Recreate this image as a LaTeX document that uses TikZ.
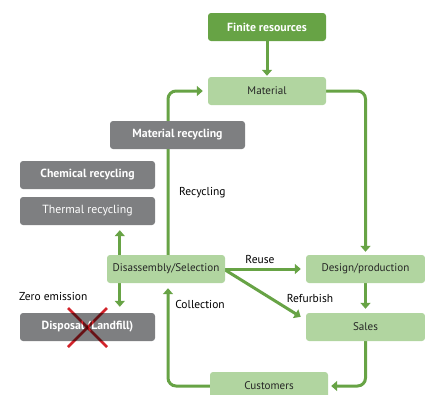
\documentclass[tikz,border=0pt]{standalone}
\usepackage{fontspec}
\setmainfont{PT Sans}
\usetikzlibrary{arrows.meta,backgrounds}
\definecolor{darkgreen}{HTML}{67A345}
\definecolor{lightgreen}{HTML}{B1D5A0}
\definecolor{boxgray}{HTML}{7E7F81}
\definecolor{crossred}{HTML}{D2232A}
\begin{document}
\begin{tikzpicture}[x=1pt,y=-1pt,font=\fontsize{11.5}{13}\selectfont,
		box/.style={rounded corners=3pt,minimum height=28pt,inner sep=0pt},
		greenbox/.style={box,fill=lightgreen,text=black!85,minimum width=118pt,font=\fontsize{11.1}{12}\selectfont},
		topbox/.style={box,fill=darkgreen,text=white,font=\fontsize{11.8}{13}\selectfont\bfseries,minimum width=118pt},
		graybox/.style={box,fill=boxgray,text=white,minimum width=135pt,font=\fontsize{11.8}{13}\selectfont},
		boldgray/.style={graybox,font=\fontsize{11.8}{13}\selectfont\bfseries},
		flow/.style={darkgreen,line width=3pt,-{Triangle[width=10pt,length=6pt]}}]
		\useasboundingbox (0,0) rectangle (425,394);
		% boxes
		\node[topbox] (fin) at (267,27) {Finite resources};
		\node[greenbox] (mat) at (267,91) {Material};
		\node[boldgray] (matrec) at (177.5,135) {Material recycling};
		\node[boldgray] (chemrec) at (87.5,175) {Chemical recycling};
		\node[graybox] (thermrec) at (87.5,211) {Thermal recycling};
		\node[greenbox] (dis) at (166,269) {Disassembly/Selection};
		\node[greenbox,minimum width=119pt] (des) at (365.5,269) {Design/production};
		\node[greenbox,minimum width=119pt] (sales) at (365.5,327) {Sales};
		\node[greenbox] (cust) at (269,386) {Customers};
		\node[boldgray] (disp) at (87.5,327) {Disposal (Landfill)};
		% arrows
		\begin{pgfonlayer}{background}
		\draw[flow,shorten >=1pt] (fin) -- (mat);
		\draw[flow,rounded corners=8pt,shorten >=3pt] (mat.east) -| (des.north);
		\draw[flow,rounded corners=8pt,shorten >=5pt] ([xshift=2pt]dis.north) |- (mat.west);
		\draw[flow,rounded corners=8pt,shorten >=5pt] (cust.west) -| ([xshift=2pt]dis.south);
		\draw[flow,rounded corners=8pt,shorten >=3pt] (sales.south) |- (cust.east);
		\draw[flow,shorten >=4pt] (des) -- (sales);
		\draw[flow,shorten >=5pt] ([xshift=13pt]dis.north west) -- ([xshift=13pt]dis.north west |- thermrec.south);
		\draw[flow,shorten >=6pt] ([xshift=13pt]dis.south west) -- ([xshift=13pt]dis.south west |- disp.north);
		\draw[flow,shorten >=5pt] (dis.east) -- (des.west);
		\draw[flow,shorten >=6pt] ([yshift=-1pt]dis.east) -- ([yshift=7pt]sales.west);
		\end{pgfonlayer}
		% labels
		\node[right,inner sep=0pt] (reclab) at (179,193) {Recycling};
		\node (reuselab) at (260,259) {Reuse};
		\node (reflab) at (310,298) {Refurbish};
		\node (collab) at (200,304) {Collection};
		\node[right,inner sep=0pt] (zerolab) at (19,296) {Zero emission};
		% cross
		\begin{scope}[blend mode=multiply]
		\draw[crossred,line width=2.5pt] (68,308) -- (107,347);
		\draw[crossred,line width=2.5pt] (68,347) -- (107,308);
		\end{scope}
	\end{tikzpicture}
\end{document}
